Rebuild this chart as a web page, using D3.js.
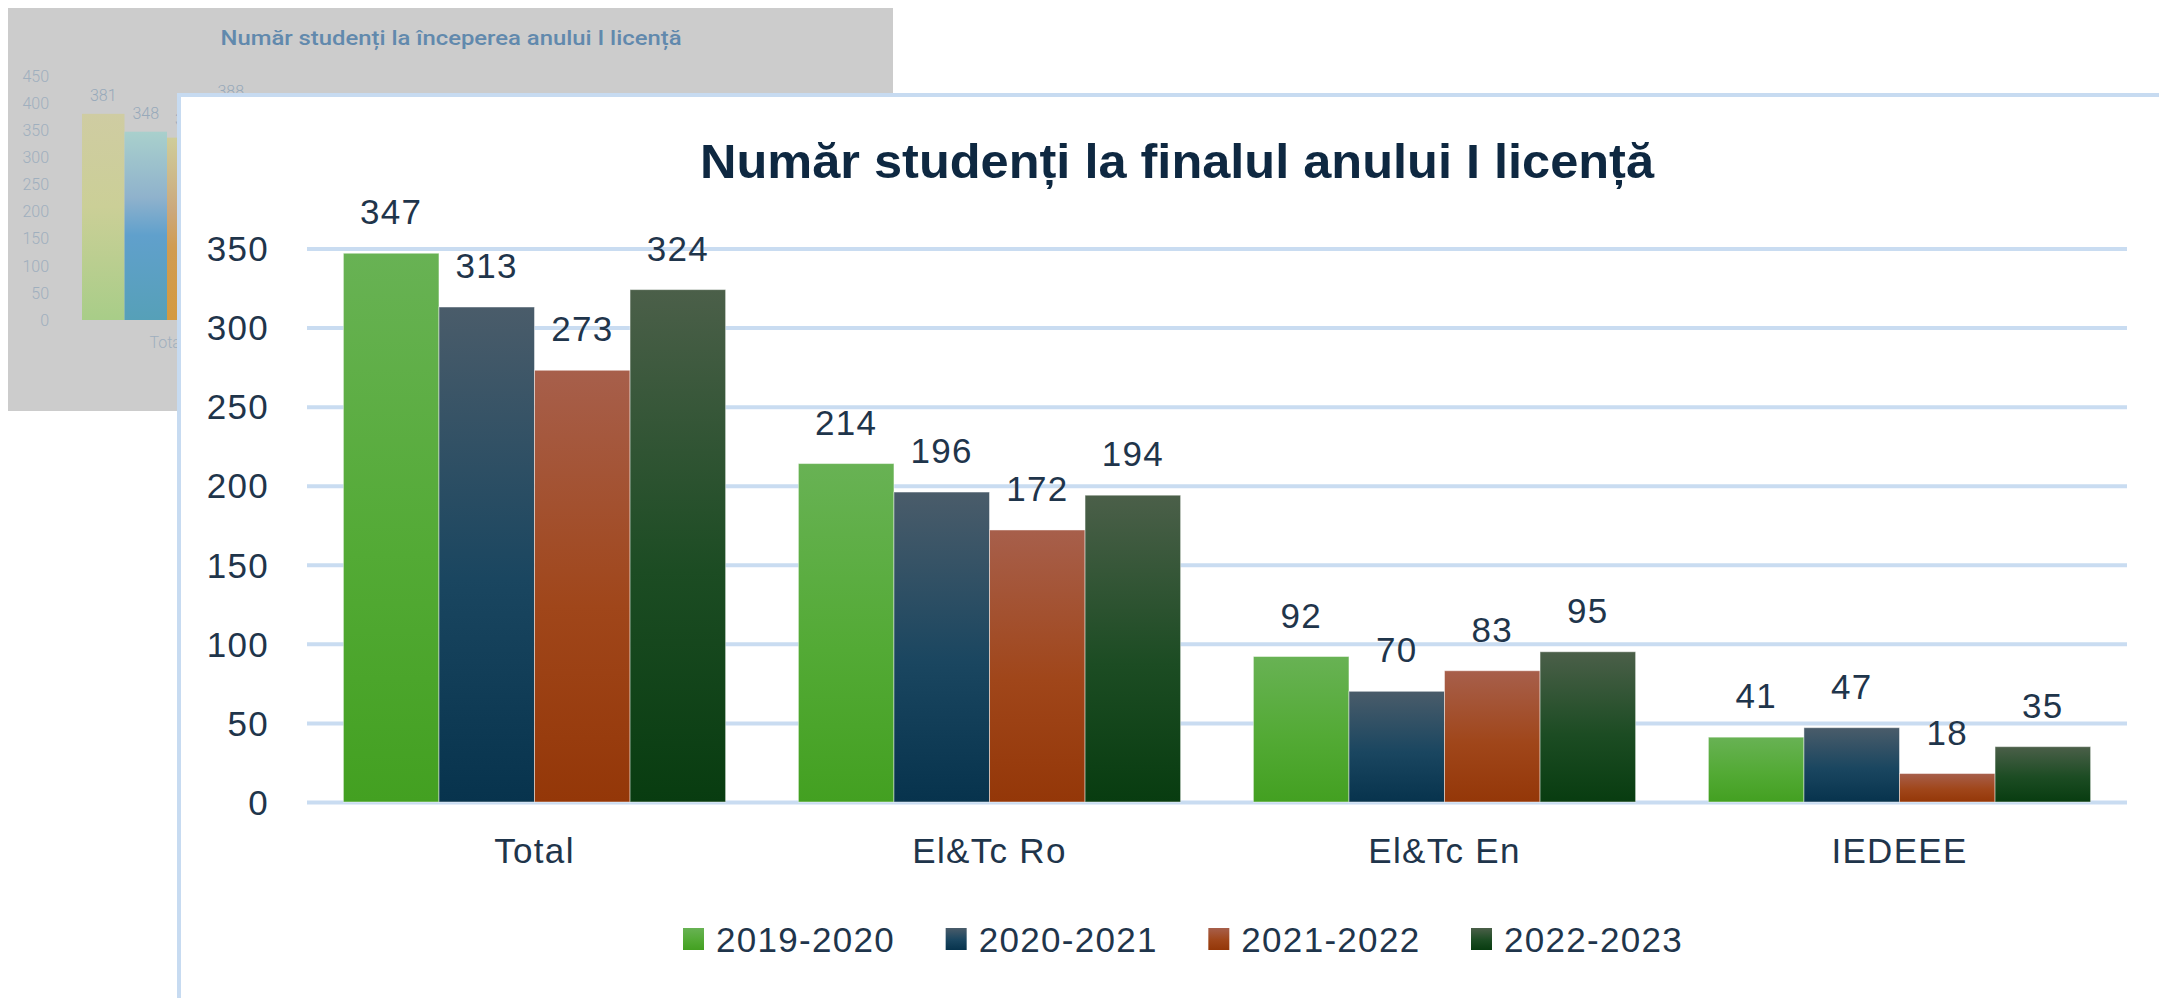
<!DOCTYPE html>
<html><head><meta charset="utf-8">
<script src="https://cdn.jsdelivr.net/npm/d3@7"></script>
<style>html,body{margin:0;padding:0;background:#fff;overflow:hidden}</style>
</head><body>
<svg id="c" width="2159" height="998"></svg>
<script>
// ---------- data: main (front) chart ----------
const categories = ["Total", "El&Tc Ro", "El&Tc En", "IEDEEE"];
const seriesNames = ["2019-2020", "2020-2021", "2021-2022", "2022-2023"];
const s2019 = [347, 214, 92, 41];
const s2020 = [313, 196, 70, 47];
const s2021 = [273, 172, 83, 18];
const s2022 = [324, 194, 95, 35];
const yTicks = [0, 50, 100, 150, 200, 250, 300, 350];
const title = "Număr studenți la finalul anului I licență";

// ---------- data: background (partly hidden) chart ----------
const bgCategories = ["Total"];
const bgValues = [381, 348, 337, 388];
const bgTicks = [0, 50, 100, 150, 200, 250, 300, 350, 400, 450];
const bgTitle = "Număr studenți la începerea anului I licență";

const seriesValues = [s2019, s2020, s2021, s2022];

const svg = d3.select("#c");
const defs = svg.append("defs");

// gradients
const mainGrad = [
  ["#68b254", "#53aa35", "#43a021"],
  ["#4a5c6a", "#1a4660", "#07334d"],
  ["#a75f4b", "#a0461a", "#943708"],
  ["#4b5f49", "#1c4c23", "#083c10"]
];
mainGrad.forEach((c, i) => {
  const g = defs.append("linearGradient").attr("id", "mg" + i)
    .attr("x1", 0).attr("y1", 0).attr("x2", 0).attr("y2", 1);
  g.append("stop").attr("offset", "0%").attr("stop-color", c[0]);
  g.append("stop").attr("offset", "55%").attr("stop-color", c[1]);
  g.append("stop").attr("offset", "100%").attr("stop-color", c[2]);
});
const bgGrad = [
  [["0%", "#cfcca2"], ["45%", "#cbcf97"], ["100%", "#a8cd88"]],
  [["0%", "#a9d0cc"], ["35%", "#8fb2cc"], ["55%", "#60a0cc"], ["100%", "#56a0b8"]],
  [["0%", "#cfcd9a"], ["40%", "#cba87c"], ["60%", "#d09c52"], ["100%", "#d49a40"]],
  [["0%", "#cfcd9a"], ["100%", "#7aa86a"]]
];
bgGrad.forEach((stops, i) => {
  const g = defs.append("linearGradient").attr("id", "bg" + i)
    .attr("x1", 0).attr("y1", 0).attr("x2", 0).attr("y2", 1);
  stops.forEach(s => g.append("stop").attr("offset", s[0]).attr("stop-color", s[1]));
});

// ================= background chart =================
const bgPanel = {x: 8, y: 8, w: 885, h: 403};
defs.append("clipPath").attr("id", "bgclip").append("rect")
  .attr("x", bgPanel.x).attr("y", bgPanel.y).attr("width", bgPanel.w).attr("height", bgPanel.h);
const bg = svg.append("g").attr("clip-path", "url(#bgclip)");
bg.append("rect").attr("x", bgPanel.x).attr("y", bgPanel.y)
  .attr("width", bgPanel.w).attr("height", bgPanel.h).attr("fill", "#cccccc");

bg.append("text").attr("x", 451).attr("y", 45).attr("text-anchor", "middle")
  .attr("font-family", "Roboto, Liberation Sans, Arial, sans-serif").attr("font-size", 21)
  .attr("font-weight", 500).attr("fill", "#6189ad")
  .attr("textLength", 461).attr("lengthAdjust", "spacingAndGlyphs")
  .text(bgTitle);

const bgY = d3.scaleLinear().domain([0, 450]).range([320, 76.5]);
const bgX = d3.scaleBand().domain(bgCategories).range([82, 252]).padding(0);
const bgX1 = d3.scaleBand().domain(seriesNames).range([0, bgX.bandwidth()]).padding(0);

const bgYAxis = bg.append("g").attr("transform", "translate(60,0)")
  .call(d3.axisLeft(bgY).tickValues(bgTicks).tickSize(0).tickPadding(11));
bgYAxis.select(".domain").remove();
bgYAxis.selectAll("text").attr("font-family", "Roboto, Liberation Sans, sans-serif")
  .attr("font-weight", 300).attr("font-size", 16).attr("fill", "#9fafbe");

const bgXAxis = bg.append("g").attr("transform", "translate(0,320)")
  .call(d3.axisBottom(bgX).tickSize(0).tickPadding(17));
bgXAxis.select(".domain").remove();
bgXAxis.selectAll("text").attr("font-family", "Roboto, Liberation Sans, sans-serif")
  .attr("font-weight", 300).attr("font-size", 16).attr("fill", "#9fafbe");

const bgData = seriesNames.map((s, i) => ({s, i, v: bgValues[i], c: bgCategories[0]}));
bg.selectAll("rect.bgbar").data(bgData).enter().append("rect").attr("class", "bgbar")
  .attr("x", d => bgX(d.c) + bgX1(d.s)).attr("width", bgX1.bandwidth())
  .attr("y", d => bgY(d.v)).attr("height", d => bgY(0) - bgY(d.v))
  .attr("fill", d => "url(#bg" + d.i + ")");
bg.selectAll("text.bglab").data(bgData).enter().append("text").attr("class", "bglab")
  .attr("x", d => bgX(d.c) + bgX1(d.s) + bgX1.bandwidth() / 2)
  .attr("y", d => bgY(d.v) - 13).attr("text-anchor", "middle")
  .attr("font-family", "Roboto, Liberation Sans, sans-serif").attr("font-weight", 300)
  .attr("font-size", 16).attr("fill", "#97a9ba").text(d => d.v);

// ================= front panel =================
const panel = {x: 177, y: 93};
svg.append("rect").attr("x", panel.x + 2).attr("y", panel.y + 2)
  .attr("width", 2159 - panel.x).attr("height", 998 - panel.y)
  .attr("fill", "#ffffff").attr("stroke", "#c7dbf1").attr("stroke-width", 4);

const font = "Liberation Sans, Arial, sans-serif";
const textCol = "#1f354b";

svg.append("text").attr("x", 1177).attr("y", 178).attr("text-anchor", "middle")
  .attr("font-family", font).attr("font-weight", 700).attr("font-size", 48)
  .attr("fill", "#0e2841").attr("textLength", 954).attr("lengthAdjust", "spacingAndGlyphs")
  .text(title);

const x0 = d3.scaleBand().domain(categories).range([307, 2127])
  .paddingInner(0.16).paddingOuter(0.08);
const x1 = d3.scaleBand().domain(seriesNames).range([0, x0.bandwidth()]).padding(0);
const y = d3.scaleLinear().domain([0, 350]).range([802, 248.5]);

const yAxis = svg.append("g").attr("transform", "translate(307,0)")
  .call(d3.axisLeft(y).tickValues(yTicks).tickSize(-1820).tickPadding(38));
yAxis.select(".domain").remove();
yAxis.selectAll(".tick line").attr("stroke", "#c9dcf1").attr("stroke-width", 4);
yAxis.selectAll("text").attr("font-family", font).attr("font-size", 35)
  .attr("letter-spacing", 1.3).attr("fill", textCol).attr("dy", "0.35em");

const xAxis = svg.append("g").attr("transform", "translate(0,802)")
  .call(d3.axisBottom(x0).tickSize(0).tickPadding(36));
xAxis.select(".domain").remove();
xAxis.selectAll("text").attr("font-family", font).attr("font-size", 35)
  .attr("letter-spacing", 1.3).attr("fill", textCol);

const flat = [];
categories.forEach((c, ci) => seriesNames.forEach((s, si) =>
  flat.push({c, s, si, v: seriesValues[si][ci]})));

svg.append("g").selectAll("rect").data(flat).enter().append("rect")
  .attr("x", d => x0(d.c) + x1(d.s)).attr("width", x1.bandwidth())
  .attr("y", d => y(d.v)).attr("height", d => y(0) - y(d.v))
  .attr("fill", d => "url(#mg" + d.si + ")")
  .attr("stroke", "rgba(255,255,255,0.45)").attr("stroke-width", 1);

svg.append("g").selectAll("text").data(flat).enter().append("text")
  .attr("x", d => x0(d.c) + x1(d.s) + x1.bandwidth() / 2)
  .attr("y", d => y(d.v) - 29).attr("text-anchor", "middle")
  .attr("font-family", font).attr("font-size", 35).attr("letter-spacing", 1.3)
  .attr("fill", textCol).text(d => d.v);

// legend
const legX = d3.scaleLinear().domain([0, seriesNames.length - 1]).range([683, 1471]);
const leg = svg.append("g").selectAll("g").data(seriesNames).enter().append("g")
  .attr("transform", (d, i) => `translate(${legX(i)},928)`);
leg.append("rect").attr("width", 21).attr("height", 22)
  .attr("fill", (d, i) => "url(#mg" + i + ")");
leg.append("text").attr("x", 33).attr("y", 23.5)
  .attr("font-family", font).attr("font-size", 35).attr("letter-spacing", 1.3)
  .attr("fill", textCol).text(d => d);
</script>
</body></html>
